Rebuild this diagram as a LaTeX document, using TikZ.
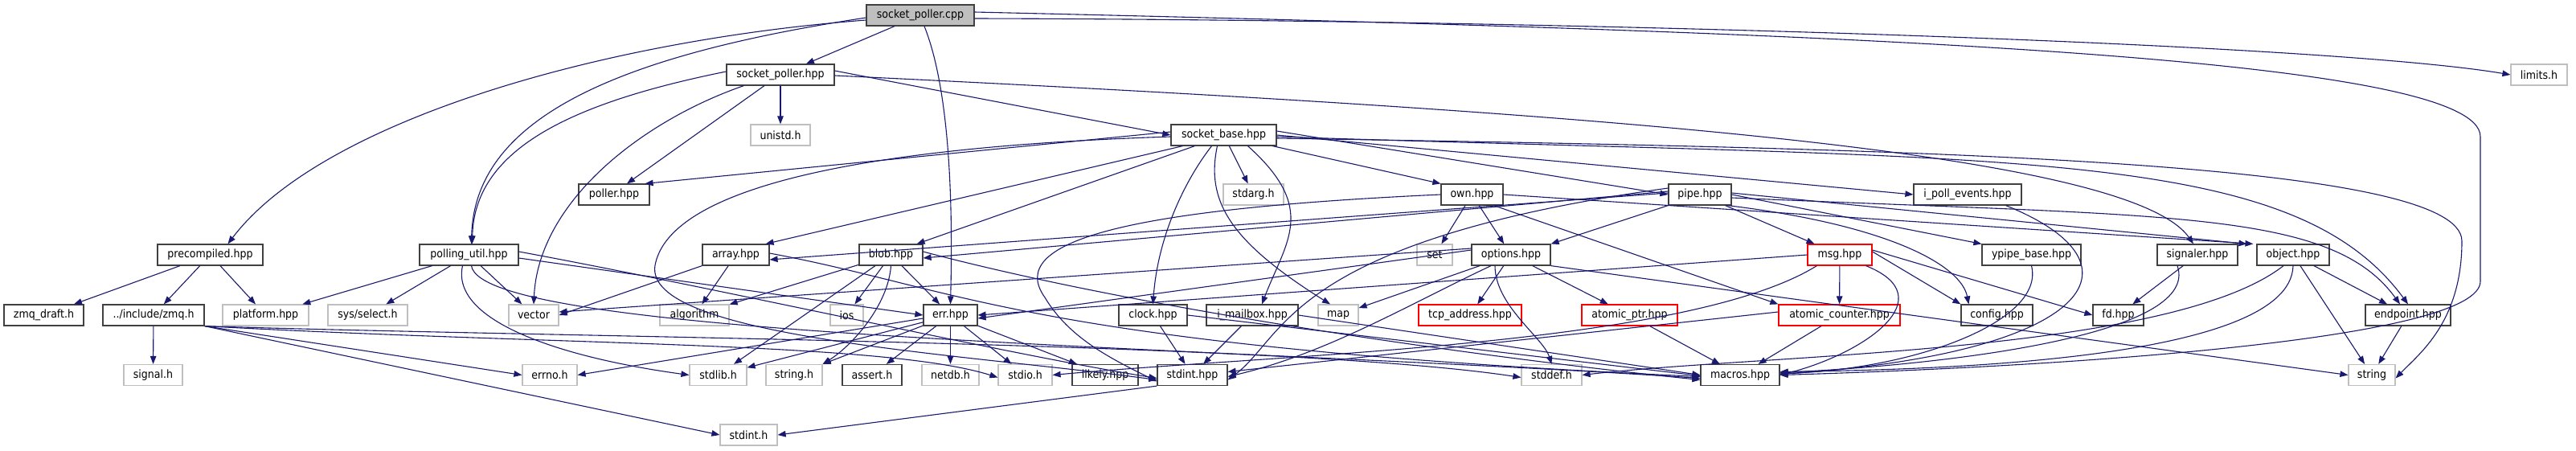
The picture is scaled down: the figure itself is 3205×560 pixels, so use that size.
\documentclass[tikz,border=0pt]{standalone}
\usepackage{fontspec}
\setmainfont{DejaVu Sans Condensed}
\usetikzlibrary{arrows.meta}
\definecolor{edgec}{HTML}{191970}
\definecolor{gbd}{HTML}{BFBFBF}
\definecolor{bbd}{HTML}{404040}
\tikzset{
 box/.style={draw=bbd, line width=1.2pt, minimum height=26pt, inner sep=0pt, font=\fontsize{14}{16}\selectfont, text=black},
 gbox/.style={box, draw=gbd},
 rbox/.style={box, draw=red},
 rootbox/.style={box, fill=gbd},
 e/.style={draw=edgec, line width=1.1pt, -{Triangle[length=10pt,width=7.5pt]}},
}
\begin{document}
\begin{tikzpicture}[x=1pt,y=-1pt]
\useasboundingbox[fill=white] (0,0) rectangle (3205,560);
% row 0
\node[rootbox, minimum width=134pt] (cpp) at (1145,19) {socket\_poller.cpp};
% row 1
\node[box, minimum width=134pt] (sphpp) at (971,93) {socket\_poller.hpp};
\node[gbox, minimum width=70pt] (limits) at (3159,93) {limits.h};
% row 2
\node[gbox, minimum width=74pt] (unistd) at (971,168) {unistd.h};
\node[box, minimum width=131pt] (sbase) at (1522.5,168) {socket\_base.hpp};
% row 3
\node[box, minimum width=88pt] (poller) at (764,242) {poller.hpp};
\node[gbox, minimum width=75pt] (stdarg) at (1559.5,242) {stdarg.h};
\node[box, minimum width=77pt] (own) at (1831.5,242) {own.hpp};
\node[box, minimum width=78pt] (pipe) at (2115,242) {pipe.hpp};
\node[box, minimum width=134pt] (ipoll) at (2448,242) {i\_poll\_events.hpp};
% row 4
\node[box, minimum width=131pt] (precomp) at (261.5,317) {precompiled.hpp};
\node[box, minimum width=123pt] (pollutil) at (583.5,317) {polling\_util.hpp};
\node[box, minimum width=83pt] (array) at (915.5,317) {array.hpp};
\node[box, minimum width=79pt] (blob) at (1108.5,317) {blob.hpp};
\node[gbox, minimum width=44pt] (set) at (1785,317) {set};
\node[box, minimum width=98pt] (options) at (1880,317) {options.hpp};
\node[rbox, minimum width=80pt] (msg) at (2289,317) {msg.hpp};
\node[box, minimum width=123pt] (ypipe) at (2527.5,317) {ypipe\_base.hpp};
\node[box, minimum width=100pt] (signaler) at (2734,317) {signaler.hpp};
\node[box, minimum width=90pt] (object) at (2853,317) {object.hpp};
% row 5
\node[box, minimum width=99pt] (zmqdraft) at (54.5,392) {zmq\_draft.h};
\node[box, minimum width=126pt] (zmqh) at (191,392) {../include/zmq.h};
\node[gbox, minimum width=107pt] (platform) at (330.5,392) {platform.hpp};
\node[gbox, minimum width=99pt] (sysselect) at (457.5,392) {sys/select.h};
\node[gbox, minimum width=62pt] (vector) at (664,392) {vector};
\node[gbox, minimum width=86pt] (algorithm) at (864,392) {algorithm};
\node[gbox, minimum width=41pt] (ios) at (1053.5,392) {ios};
\node[box, minimum width=67pt] (err) at (1182.5,392) {err.hpp};
\node[box, minimum width=85pt] (clock) at (1434.5,392) {clock.hpp};
\node[box, minimum width=114pt] (imailbox) at (1558,392) {i\_mailbox.hpp};
\node[gbox, minimum width=50pt] (map) at (1665,392) {map};
\node[rbox, minimum width=128pt] (tcp) at (1829,392) {tcp\_address.hpp};
\node[rbox, minimum width=119pt] (atomicptr) at (2027.5,392) {atomic\_ptr.hpp};
\node[rbox, minimum width=151pt] (atomiccnt) at (2288.5,392) {atomic\_counter.hpp};
\node[box, minimum width=89pt] (config) at (2484.5,392) {config.hpp};
\node[box, minimum width=63pt] (fd) at (2635.5,392) {fd.hpp};
\node[box, minimum width=106pt] (endpoint) at (2996,392) {endpoint.hpp};
% row 6
\node[gbox, minimum width=73pt] (signal) at (190.5,466.5) {signal.h};
\node[gbox, minimum width=68pt] (errno) at (684,466.5) {errno.h};
\node[gbox, minimum width=71pt] (stdlib) at (893.5,466.5) {stdlib.h};
\node[gbox, minimum width=70pt] (stringh) at (988,466.5) {string.h};
\node[box, minimum width=74pt] (assert) at (1085,466.5) {assert.h};
\node[gbox, minimum width=71pt] (netdb) at (1182.5,466.5) {netdb.h};
\node[gbox, minimum width=67pt] (stdio) at (1275.5,466.5) {stdio.h};
\node[box, minimum width=82pt] (likely) at (1375,466.5) {likely.hpp};
\node[box, minimum width=87pt] (stdinthpp) at (1483.5,466.5) {stdint.hpp};
\node[gbox, minimum width=75pt] (stddef) at (1930.5,466.5) {stddef.h};
\node[box, minimum width=98pt] (macros) at (2165,466.5) {macros.hpp};
\node[gbox, minimum width=58pt] (string) at (2951,466.5) {string};
% row 7
\node[gbox, minimum width=71pt] (stdinth) at (931.5,541) {stdint.h};

% ---- edges ----
% socket_poller.cpp
\draw[e] (cpp) -- (sphpp);
\draw[e] ([xshift=5pt]cpp.south) .. controls (1185,120) and (1185,280) .. (err.north);
\draw[e] ([yshift=-3pt]cpp.west) .. controls (760,70) and (590,150) .. ([xshift=3pt]pollutil.north);
\draw[e] ([yshift=-6pt]cpp.west) .. controls (750,50) and (400,150) .. ([xshift=22pt]precomp.north);
\draw[e] ([yshift=-4pt]cpp.east) .. controls (2000,25) and (2900,55) .. (limits.west);
\draw[e] ([yshift=4pt]cpp.east) .. controls (2300,40) and (3086,70) .. (3086,170) -- (3086,350) .. controls (3086,420) and (2600,455) .. (macros.east);
% socket_poller.hpp
\draw[e] (sphpp) -- (unistd);
\draw[e] ([yshift=5pt]sphpp.east) -- (sbase.west);
\draw[e] ([xshift=-20pt]sphpp.south) -- ([xshift=16pt]poller.north);
\draw[e] ([xshift=22pt]sphpp.south west) .. controls (800,150) and (670,250) .. (vector.north);
\draw[e] ([yshift=4pt]sphpp.west) .. controls (700,130) and (590,190) .. ([xshift=4pt]pollutil.north);
\draw[e] ([yshift=-1pt]sphpp.east) .. controls (2000,140) and (2650,190) .. ([xshift=-5pt]signaler.north);
% precompiled.hpp
\draw[e] (precomp) -- (zmqdraft);
\draw[e] (precomp) -- (zmqh);
\draw[e] (precomp) -- (platform);
% polling_util.hpp
\draw[e] (pollutil) -- (platform);
\draw[e] (pollutil) -- (sysselect);
\draw[e] (pollutil) -- (vector);
\draw[e] ([yshift=-4pt]pollutil.east) -- (err.west);
\draw[e] ([yshift=4pt]pollutil.east) .. controls (900,360) and (1250,440) .. ([yshift=-4pt]stdinthpp.west);
\draw[e] ([xshift=-8pt]pollutil.south) .. controls (560,400) and (700,445) .. (stdlib.west);
\draw[e] ([xshift=3pt]pollutil.south) .. controls (600,420) and (1500,430) .. ([yshift=-4pt]macros.west);
% zmq.h
\draw[e] (zmqh) -- (signal);
\draw[e] (zmqh.south east) -- (errno.west);
\draw[e] (zmqh.south east) -- (stdinth.west);
\draw[e] (zmqh.south east) .. controls (700,420) and (1600,425) .. ([yshift=-3pt]stddef.west);
\draw[e] (zmqh.south east) .. controls (700,430) and (1100,425) .. ([yshift=-3pt]stdio.west);
% err.hpp
\draw[e] (err) -- (stdlib);
\draw[e] (err) -- (stringh);
\draw[e] (err) -- (assert);
\draw[e] (err) -- (netdb);
\draw[e] (err) -- (stdio);
\draw[e] (err) -- (likely);
\draw[e] ([yshift=-4pt]err.west) -- (errno.east);
% blob.hpp
\draw[e] (blob) -- (algorithm);
\draw[e] (blob) -- (ios);
\draw[e] (blob) -- (stdlib);
\draw[e] (blob.south) .. controls (1105,380) and (1060,430) .. (stringh.north east);
\draw[e] (blob) -- (err);
\draw[e] ([yshift=4pt]blob.east) .. controls (1400,380) and (1800,440) .. ([yshift=-6pt]macros.west);
% array.hpp
\draw[e] (array) -- (algorithm);
\draw[e] (array.south west) -- (vector.east);
\draw[e] ([yshift=2pt]array.east) .. controls (1200,360) and (1280,430) .. ([yshift=-2pt]macros.west);
% socket_base.hpp
\draw[e] ([yshift=4pt]sbase.west) -- ([xshift=-6pt]poller.north east);
\draw[e] ([yshift=-2pt]sbase.west) .. controls (1000,185) and (830,250) .. (815,330) .. controls (800,420) and (1200,440) .. ([yshift=-6pt]stdinthpp.west);
\draw[e] ([xshift=15pt]sbase.south west) -- ([xshift=-5pt]array.north east);
\draw[e] ([xshift=30pt]sbase.south west) -- ([xshift=-8pt]blob.north east);
\draw[e] ([xshift=-15pt]sbase.south) .. controls (1470,230) and (1440,300) .. (clock.north);
\draw[e] ([xshift=-8pt]sbase.south) .. controls (1500,250) and (1530,300) .. ([xshift=-10pt]map.north);
\draw[e] ([xshift=30pt]sbase.south) .. controls (1640,260) and (1600,300) .. ([xshift=12pt]imailbox.north);
\draw[e] (sbase) -- (stdarg);
\draw[e] (sbase) -- (own.north west);
\draw[e] ([yshift=5pt]sbase.east) -- (pipe.west);
\draw[e] (sbase.east) -- (ipoll.west);
\draw[e] ([yshift=-4pt]sbase.east) .. controls (2400,185) and (3063,200) .. (3063,300) .. controls (3063,400) and (3010,440) .. ([yshift=-4pt]string.east);
\draw[e] ([yshift=-2pt]sbase.east) .. controls (2500,200) and (2850,180) .. ([xshift=0pt]endpoint.north);
% own.hpp
\draw[e] (own) -- (set);
\draw[e] (own) -- (options);
\draw[e] ([xshift=-12pt]own.south east) -- (atomiccnt.north west);
\draw[e] (own.east) -- ([xshift=-4pt]object.north west);
\draw[e] (own.west) .. controls (1400,260) and (1250,300) .. (1300,370) .. controls (1330,420) and (1380,445) .. ([yshift=-8pt]stdinthpp.west);
% pipe.hpp
\draw[e] (pipe.south west) -- (options.north east);
\draw[e] (pipe) -- (msg);
\draw[e] (pipe.east) -- (ypipe.north west);
\draw[e] ([xshift=-5pt]pipe.south east) .. controls (2350,280) and (2440,330) .. ([xshift=10pt]config.north west);
\draw[e] ([yshift=2pt]pipe.east) -- ([xshift=-12pt]object.north west);
\draw[e] ([yshift=-4pt]pipe.east) .. controls (2700,270) and (2900,260) .. ([xshift=-10pt]endpoint.north);
\draw[e] ([yshift=2pt]pipe.west) -- ([yshift=-6pt]array.east);
\draw[e] ([yshift=4pt]pipe.west) -- ([yshift=-4pt]blob.east);
\draw[e] ([yshift=8pt]pipe.west) .. controls (1600,300) and (1600,420) .. ([yshift=-6pt]stdinthpp.east);
% options.hpp
\draw[e] ([yshift=6pt]options.west) -- ([yshift=-4pt]err.east);
\draw[e] ([yshift=8pt]options.west) -- ([yshift=4pt]vector.east);
\draw[e] (options) -- (map);
\draw[e] ([xshift=-25pt]options.south) .. controls (1750,380) and (1650,440) .. ([yshift=-2pt]stdinthpp.east);
\draw[e] (options) -- (tcp);
\draw[e] ([xshift=-20pt]options.south) .. controls (1860,380) and (1920,420) .. (stddef.north);
\draw[e] (options) -- (atomicptr);
\draw[e] (options.south east) -- (string.west);
% msg.hpp
\draw[e] (msg.west) -- (err.east);
\draw[e] (msg) -- (atomiccnt);
\draw[e] ([xshift=-8pt]msg.south east) .. controls (2420,370) and (2320,440) .. (macros.east);
\draw[e] ([xshift=12pt]msg.south west) .. controls (2100,430) and (1600,440) .. (stdio.east);
\draw[e] ([yshift=4pt]msg.east) -- (config.north west);
\draw[e] ([yshift=6pt]msg.east) -- (fd.west);
% atomic_counter / atomic_ptr
\draw[e] (atomiccnt) -- (macros);
\draw[e] ([yshift=4pt]atomiccnt.west) -- ([yshift=4pt]stdinthpp.east);
\draw[e] (atomicptr) -- (macros);
% ypipe, signaler, object, endpoint, ipoll
\draw[e] (ypipe.south) .. controls (2545,400) and (2380,460) .. ([yshift=2pt]macros.east);
\draw[e] (signaler) -- (fd);
\draw[e] ([xshift=-25pt]signaler.south) .. controls (2740,420) and (2400,455) .. ([yshift=3pt]macros.east);
\draw[e] (object) -- (endpoint);
\draw[e] (object) -- (string);
\draw[e] (object.south) .. controls (2850,450) and (2400,460) .. ([yshift=4pt]macros.east);
\draw[e] ([xshift=-12pt]object.south) .. controls (2700,440) and (2200,440) .. (stddef.east);
\draw[e] (endpoint) -- (string);
\draw[e] ([xshift=-20pt]ipoll.south east) .. controls (2680,330) and (2600,440) .. ([yshift=1pt]macros.east);
% clock, i_mailbox, stdint
\draw[e] (clock) -- (stdinthpp);
\draw[e] (clock.east) -- ([yshift=-1pt]macros.west);
\draw[e] (imailbox) -- (stdinthpp);
\draw[e] (imailbox.east) -- (macros.west);
\draw[e] (stdinthpp.south west) -- (stdinth.east);
\end{tikzpicture}
\end{document}
